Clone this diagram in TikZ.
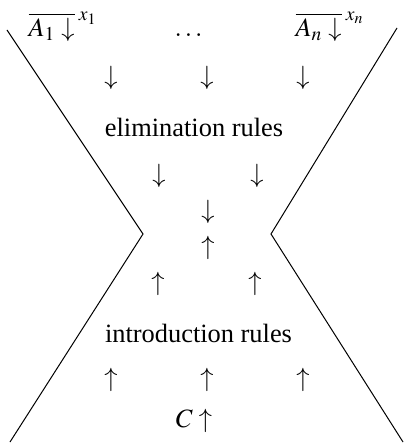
\documentclass[tikz,border=0pt]{standalone}
\usepackage{amsmath}
\usepackage{mathptmx}
\usepackage[no-math]{fontspec}
\setmainfont{Liberation Serif}
\usepackage{tikz}
\usetikzlibrary{positioning, calc}

\tikzset{
    sym/.style={inner sep=0pt, font=\fontsize{13.2}{16}\selectfont},
    hook/.style={sym, anchor=base},
}

\begin{document}
\begin{tikzpicture}[x=0.5pt, y=-0.5pt, line width=0.5pt]
    \useasboundingbox (0,0) rectangle (405,443);

    % Hourglass outline
    \draw (7,30) -- (143,234) -- (10,442);
    \draw (397,28) -- (271,234) -- (403,442);

    % Hypotheses
    \node[hook] (hypA) at (63,37) {$\overline{A_1\downarrow}^{\;x_1}$};
    \node[hook] (dots) at (190,37) {$\dots$};
    \node[hook] (hypN) at (330,37) {$\overline{A_n\downarrow}^{\;x_n}$};

    % Elimination part
    \node[sym] (dA) at (111,78) {$\downarrow$};
    \node[sym] (dB) at (207,78) {$\downarrow$};
    \node[sym] (dC) at (303,78) {$\downarrow$};
    \node[hook] (elim) at (194,137) {elimination rules};
    \node[sym] (dD) at (159,176) {$\downarrow$};
    \node[sym] (dE) at (257,176) {$\downarrow$};
    \node[sym] (dF) at (208,212) {$\downarrow$};

    % Introduction part
    \node[sym] (uF) at (208,248) {$\uparrow$};
    \node[sym] (uD) at (158,284) {$\uparrow$};
    \node[sym] (uE) at (255,284) {$\uparrow$};
    \node[hook] (intro) at (198.5,342) {introduction rules};
    \node[sym] (uA) at (111,380) {$\uparrow$};
    \node[sym] (uB) at (207,380) {$\uparrow$};
    \node[sym] (uC) at (303,380) {$\uparrow$};

    % Conclusion
    \node[hook] (concl) at (194,427) {$C\uparrow$};
\end{tikzpicture}
\end{document}
